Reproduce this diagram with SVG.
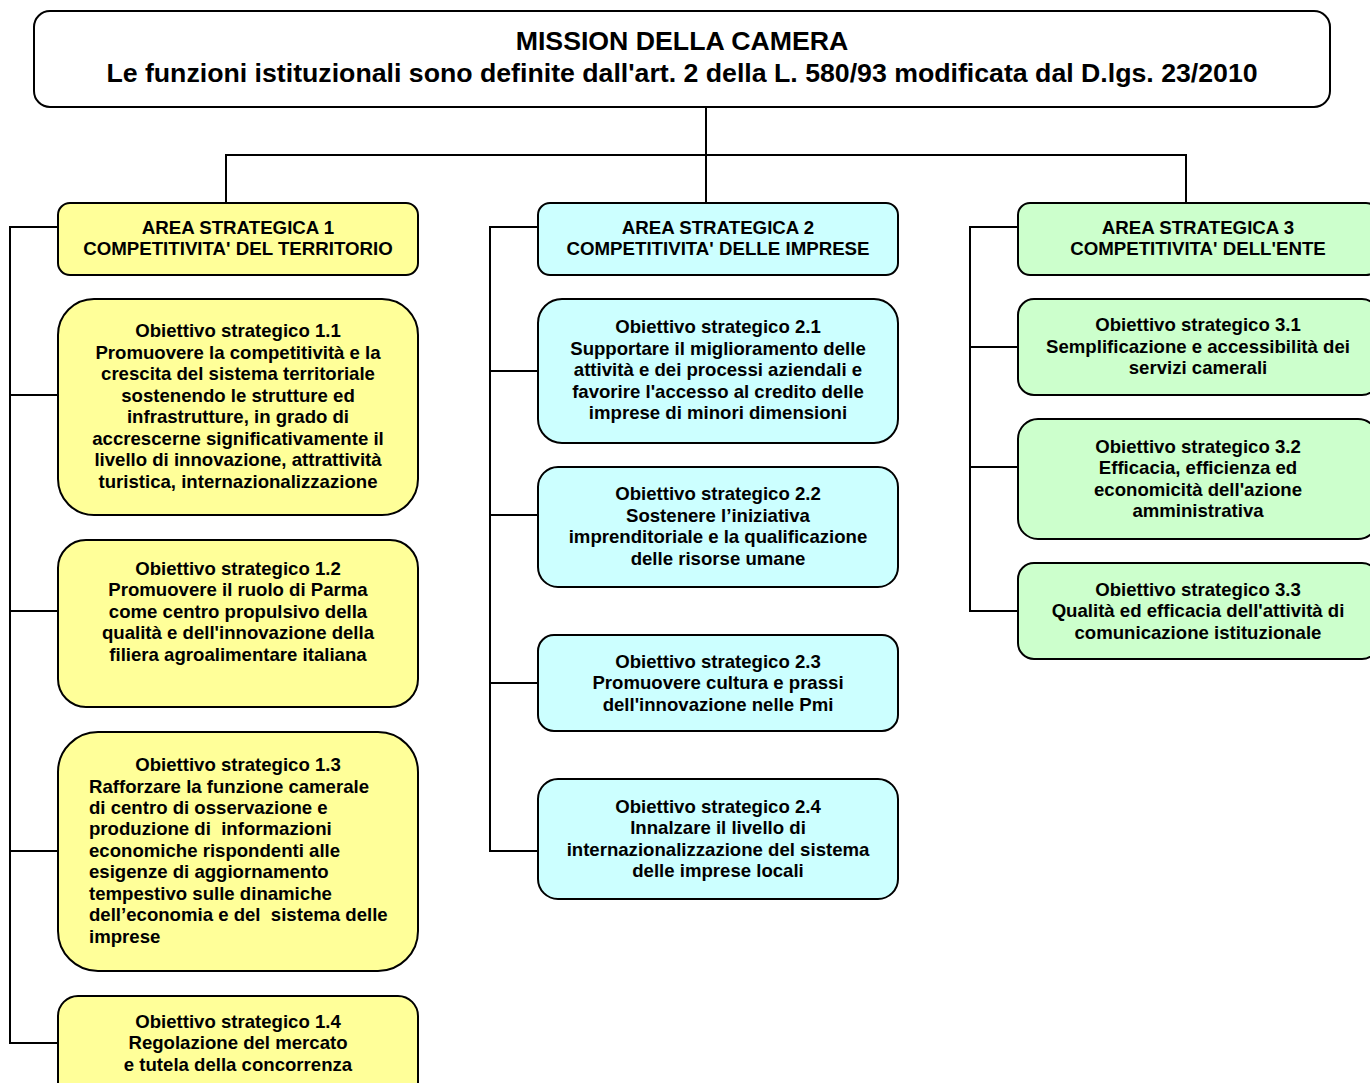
<svg xmlns="http://www.w3.org/2000/svg" width="1370" height="1083" viewBox="0 0 1370 1083">
<style>
  .box { stroke: #000; stroke-width: 2; }
  .y { fill: #FFFF99; }
  .c { fill: #CCFFFF; }
  .g { fill: #CCFFCC; }
  .w { fill: #FFFFFF; }
  text { font-family: "Liberation Sans", Arial, sans-serif; font-weight: bold; fill: #000; }
  .t { font-size: 18.6px; text-anchor: middle; }
  .a { font-size: 18.7px; text-anchor: middle; }
  .l { font-size: 18.6px; text-anchor: start; }
  .h { font-size: 26.7px; text-anchor: middle; }
  .conn { fill: none; stroke: #000; stroke-width: 2; }
</style>
<rect width="1370" height="1083" fill="#FFFFFF"/>
<g id="connectors">
  <path class="conn" d="M706,107 V155 M226,203 V155 H1186 V203 M706,155 V203"/>
  <path class="conn" d="M58,227 H10 V1043 H58 M10,395 H58 M10,611 H58 M10,851 H58"/>
  <path class="conn" d="M538,227 H490 V851 H538 M490,371 H538 M490,515 H538 M490,683 H538"/>
  <path class="conn" d="M1018,227 H970 V611 H1018 M970,347 H1018 M970,467 H1018"/>
</g>
<g id="mission">
  <rect class="box w" x="34" y="11" width="1296" height="96" rx="16"/>
  <text class="h" x="682" y="50">MISSION DELLA CAMERA</text>
  <text class="h" x="682" y="82">Le funzioni istituzionali sono definite dall'art. 2 della L. 580/93 modificata dal D.lgs. 23/2010</text>
</g>
<g id="area1">
  <rect class="box y" x="58" y="203" width="360" height="72" rx="12"/>
  <text class="a" x="238" y="234">AREA STRATEGICA 1</text>
  <text class="a" x="238" y="255">COMPETITIVITA' DEL TERRITORIO</text>
</g>
<g id="obj11">
  <rect class="box y" x="58" y="299" width="360" height="216" rx="36"/>
  <text class="t" x="238" y="337">Obiettivo strategico 1.1</text>
  <text class="t" x="238" y="359">Promuovere la competitività e la</text>
  <text class="t" x="238" y="380">crescita del sistema territoriale</text>
  <text class="t" x="238" y="402">sostenendo le strutture ed</text>
  <text class="t" x="238" y="423">infrastrutture, in grado di</text>
  <text class="t" x="238" y="445">accrescerne significativamente il</text>
  <text class="t" x="238" y="466">livello di innovazione, attrattività</text>
  <text class="t" x="238" y="488">turistica, internazionalizzazione</text>
</g>
<g id="obj12">
  <rect class="box y" x="58" y="540" width="360" height="167" rx="28"/>
  <text class="t" x="238" y="575">Obiettivo strategico 1.2</text>
  <text class="t" x="238" y="596">Promuovere il ruolo di Parma</text>
  <text class="t" x="238" y="618">come centro propulsivo della</text>
  <text class="t" x="238" y="639">qualità e dell'innovazione della</text>
  <text class="t" x="238" y="661">filiera agroalimentare italiana</text>
</g>
<g id="obj13">
  <rect class="box y" x="58" y="732" width="360" height="239" rx="40"/>
  <text class="t" x="238" y="771">Obiettivo strategico 1.3</text>
  <text class="l" x="89" y="793">Rafforzare la funzione camerale</text>
  <text class="l" x="89" y="814">di centro di osservazione e</text>
  <text class="l" x="89" y="835" xml:space="preserve">produzione di  informazioni</text>
  <text class="l" x="89" y="857">economiche rispondenti alle</text>
  <text class="l" x="89" y="878">esigenze di aggiornamento</text>
  <text class="l" x="89" y="900">tempestivo sulle dinamiche</text>
  <text class="l" x="89" y="921" xml:space="preserve">dell’economia e del  sistema delle</text>
  <text class="l" x="89" y="943">imprese</text>
</g>
<g id="obj14">
  <rect class="box y" x="58" y="996" width="360" height="120" rx="20"/>
  <text class="t" x="238" y="1028">Obiettivo strategico 1.4</text>
  <text class="t" x="238" y="1049">Regolazione del mercato</text>
  <text class="t" x="238" y="1071">e tutela della concorrenza</text>
</g>
<g id="area2">
  <rect class="box c" x="538" y="203" width="360" height="72" rx="12"/>
  <text class="a" x="718" y="234">AREA STRATEGICA 2</text>
  <text class="a" x="718" y="255">COMPETITIVITA' DELLE IMPRESE</text>
</g>
<g id="obj21">
  <rect class="box c" x="538" y="299" width="360" height="144" rx="24"/>
  <text class="t" x="718" y="333">Obiettivo strategico 2.1</text>
  <text class="t" x="718" y="355">Supportare il miglioramento delle</text>
  <text class="t" x="718" y="376">attività e dei processi aziendali e</text>
  <text class="t" x="718" y="398">favorire l'accesso al credito delle</text>
  <text class="t" x="718" y="419">imprese di minori dimensioni</text>
</g>
<g id="obj22">
  <rect class="box c" x="538" y="467" width="360" height="120" rx="20"/>
  <text class="t" x="718" y="500">Obiettivo strategico 2.2</text>
  <text class="t" x="718" y="522">Sostenere l’iniziativa</text>
  <text class="t" x="718" y="543">imprenditoriale e la qualificazione</text>
  <text class="t" x="718" y="565">delle risorse umane</text>
</g>
<g id="obj23">
  <rect class="box c" x="538" y="635" width="360" height="96" rx="16"/>
  <text class="t" x="718" y="668">Obiettivo strategico 2.3</text>
  <text class="t" x="718" y="689">Promuovere cultura e prassi</text>
  <text class="t" x="718" y="711">dell'innovazione nelle Pmi</text>
</g>
<g id="obj24">
  <rect class="box c" x="538" y="779" width="360" height="120" rx="20"/>
  <text class="t" x="718" y="813">Obiettivo strategico 2.4</text>
  <text class="t" x="718" y="834">Innalzare il livello di</text>
  <text class="t" x="718" y="856">internazionalizzazione del sistema</text>
  <text class="t" x="718" y="877">delle imprese locali</text>
</g>
<g id="area3">
  <rect class="box g" x="1018" y="203" width="360" height="72" rx="12"/>
  <text class="a" x="1198" y="234">AREA STRATEGICA 3</text>
  <text class="a" x="1198" y="255">COMPETITIVITA' DELL'ENTE</text>
</g>
<g id="obj31">
  <rect class="box g" x="1018" y="299" width="360" height="96" rx="16"/>
  <text class="t" x="1198" y="331">Obiettivo strategico 3.1</text>
  <text class="t" x="1198" y="353">Semplificazione e accessibilità dei</text>
  <text class="t" x="1198" y="374">servizi camerali</text>
</g>
<g id="obj32">
  <rect class="box g" x="1018" y="419" width="360" height="120" rx="20"/>
  <text class="t" x="1198" y="453">Obiettivo strategico 3.2</text>
  <text class="t" x="1198" y="474">Efficacia, efficienza ed</text>
  <text class="t" x="1198" y="496">economicità dell'azione</text>
  <text class="t" x="1198" y="517">amministrativa</text>
</g>
<g id="obj33">
  <rect class="box g" x="1018" y="563" width="360" height="96" rx="16"/>
  <text class="t" x="1198" y="596">Obiettivo strategico 3.3</text>
  <text class="t" x="1198" y="617">Qualità ed efficacia dell'attività di</text>
  <text class="t" x="1198" y="639">comunicazione istituzionale</text>
</g>
</svg>
